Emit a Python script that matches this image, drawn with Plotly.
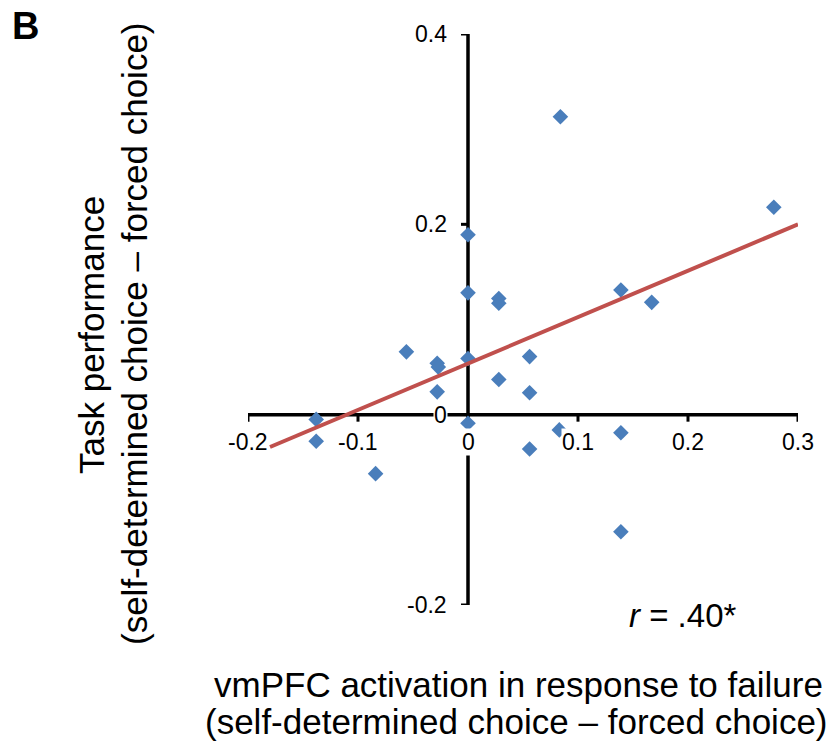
import plotly.graph_objects as go

# ---- data ----
vmpfc = [-0.138, -0.138, -0.084, -0.056, -0.028, -0.027, -0.028,
         0.0, 0.0, 0.0, 0.0, 0.028, 0.028, 0.028,
         0.056, 0.056, 0.056, 0.084, 0.083, 0.139, 0.139, 0.139,
         0.167, 0.278]
performance = [-0.005, -0.028, -0.062, 0.066, 0.054, 0.050, 0.024,
               0.189, 0.128, 0.059, -0.009, 0.122, 0.117, 0.037,
               0.061, 0.023, -0.036, 0.313, -0.016, 0.131, -0.019, -0.123,
               0.118, 0.218]
trend_x = [-0.18, 0.30]
trend_y = [-0.034, 0.200]
x_ticks = [-0.2, -0.1, 0, 0.1, 0.2, 0.3]
x_tick_labels = ["-0.2", "-0.1", "0", "0.1", "0.2", "0.3"]
y_ticks = [0.4, 0.2, 0, -0.2]
y_tick_labels = ["0.4", "0.2", "0", "-0.2"]

W, H = 829, 748
L, R, T, B = 248, 31, 34, 143
XR = [-0.2, 0.3]
YR = [-0.2, 0.4]
FONT = "Liberation Sans, Arial, Helvetica, sans-serif"

def px_x(p):
    return (p - L) / (W - L - R)

def px_y(p):
    return (H - B - p) / (H - T - B)

xscale = (W - L - R) / (XR[1] - XR[0])  # px per unit
yscale = (H - T - B) / (YR[1] - YR[0])

fig = go.Figure()
fig.add_trace(go.Scatter(
    x=vmpfc, y=performance, mode="markers",
    marker=dict(symbol="diamond", size=12, color="#4A7EBB",
                line=dict(width=0)),
    showlegend=False, hoverinfo="skip"))
fig.add_trace(go.Scatter(
    x=trend_x, y=trend_y, mode="lines",
    line=dict(color="#C0504D", width=4),
    showlegend=False, hoverinfo="skip"))

shapes = []
AX = dict(color="black", width=3.5)
shapes.append(dict(type="line", xref="x", yref="y", x0=XR[0], x1=XR[1], y0=0, y1=0,
                   line=AX, layer="below"))
shapes.append(dict(type="line", xref="x", yref="y", x0=0, x1=0, y0=YR[0], y1=YR[1],
                   line=AX, layer="below"))
tlen = 7
for v in x_ticks:
    if v == 0:
        continue
    shapes.append(dict(type="line", xref="x", yref="y", x0=v, x1=v, y0=0,
                       y1=-tlen / yscale, line=dict(color="black", width=3), layer="below"))
for v in y_ticks:
    if v == 0:
        continue
    shapes.append(dict(type="line", xref="x", yref="y", x0=0, x1=-tlen / xscale,
                       y0=v, y1=v, line=dict(color="black", width=3), layer="below"))

TICKFONT = dict(family=FONT, size=23, color="black")
ann = []
for v, t in zip(x_ticks, x_tick_labels):
    ann.append(dict(x=v, xref="x", y=px_y(442), yref="paper", text=t, showarrow=False,
                    xanchor="center", yanchor="middle", bgcolor="white", borderpad=0,
                    font=TICKFONT))
for v, t in zip(y_ticks, y_tick_labels):
    ann.append(dict(x=px_x(448), xref="paper", y=v, yref="y", text=t, showarrow=False,
                    xanchor="right", yanchor="middle", bgcolor="white", borderpad=0,
                    font=TICKFONT))

TITLEFONT = dict(family=FONT, size=35, color="black")
ann.append(dict(x=px_x(682), xref="paper", y=px_y(615), yref="paper",
                text="<i>r</i> = .40*", showarrow=False, xanchor="center", yanchor="middle",
                font=dict(family=FONT, size=33, color="black")))
ann.append(dict(x=px_x(518), xref="paper", y=px_y(684), yref="paper",
                text="vmPFC activation in response to failure", showarrow=False,
                xanchor="center", yanchor="middle", font=TITLEFONT))
ann.append(dict(x=px_x(516), xref="paper", y=px_y(721), yref="paper",
                text="(self-determined choice \u2013 forced choice)", showarrow=False,
                xanchor="center", yanchor="middle", font=TITLEFONT))
ann.append(dict(x=px_x(91), xref="paper", y=px_y(335), yref="paper",
                text="Task performance", showarrow=False, textangle=-90,
                xanchor="center", yanchor="middle", font=TITLEFONT))
ann.append(dict(x=px_x(134), xref="paper", y=px_y(334), yref="paper",
                text="(self-determined choice \u2013 forced choice)", showarrow=False,
                textangle=-90, xanchor="center", yanchor="middle", font=TITLEFONT))
ann.append(dict(x=px_x(25), xref="paper", y=px_y(26), yref="paper",
                text="<b>B</b>", showarrow=False, xanchor="center", yanchor="middle",
                font=dict(family=FONT, size=38, color="black")))

fig.update_layout(
    width=W, height=H,
    margin=dict(l=L, r=R, t=T, b=B, pad=0),
    paper_bgcolor="white", plot_bgcolor="white",
    xaxis=dict(range=XR, visible=False, fixedrange=True),
    yaxis=dict(range=YR, visible=False, fixedrange=True),
    shapes=shapes, annotations=ann,
)
fig.write_html("out.html")
